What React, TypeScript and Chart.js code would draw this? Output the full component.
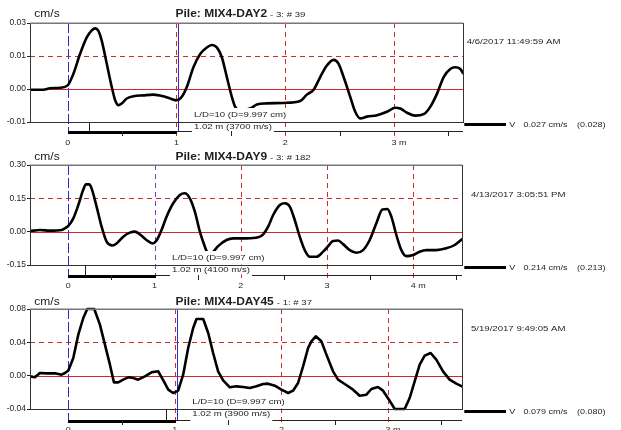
import React, { useEffect, useRef } from "react";
import { Chart, registerables } from "chart.js";

Chart.register(...registerables);

const FONT = '"Liberation Sans", Arial, Helvetica, sans-serif';
Chart.defaults.font.family = FONT;

// ---------- Pile MIX4-DAY2 : depth (m) vs velocity (cm/s) ----------
const DAY2_DEPTH = [
  -0.347, -0.224, -0.163, -0.071, 0, 0.052, 0.113, 0.175, 0.221, 0.252, 0.282, 0.313, 0.359, 0.405,
  0.436, 0.466, 0.497, 0.543, 0.604, 0.696, 0.788, 0.88, 0.942, 1.003, 1.049, 1.095, 1.156, 1.218,
  1.279, 1.325, 1.371, 1.417, 1.463, 1.509, 1.54, 1.6, 1.66, 1.693, 1.739, 1.831, 1.985, 2.138, 2.199,
  2.261, 2.322, 2.383, 2.445, 2.491, 2.537, 2.598, 2.644, 2.69, 2.752, 2.844, 2.936, 3.012, 3.058, 3.12,
  3.196, 3.273, 3.334, 3.396, 3.457, 3.518, 3.564, 3.61, 3.635,
];
const DAY2_VELOCITY = [
  -0.0003, -0.0003, 0.0003, 0.0005, 0.0015, 0.0062, 0.0143, 0.0211, 0.024, 0.0248, 0.0238, 0.0197,
  0.0103, 0.0008, -0.0046, -0.0066, -0.0059, -0.0039, -0.003, -0.0026, -0.0023, -0.003, -0.0039,
  -0.0046, -0.0032, 0.0008, 0.0089, 0.0143, 0.017, 0.018, 0.017, 0.013, 0.0049, -0.0032, -0.0073,
  -0.009, -0.0082, -0.0076, -0.0063, -0.0059, -0.0057, -0.0049, -0.0023, -0.0003, 0.0049, 0.0096,
  0.0119, 0.0103, 0.0049, -0.0032, -0.0093, -0.012, -0.0113, -0.0107, -0.0093, -0.0077, -0.008,
  -0.0097, -0.0109, -0.0103, -0.0073, -0.0019, 0.0049, 0.0082, 0.0089, 0.0082, 0.0065,
];
const DAY2_RANGE = [-0.347, 3.635];
const DAY2_Y_TICKS = [-0.0135, 0, 0.0135, 0.027];
const DAY2_Y_LABELS = ["-0.01", "0.00", "0.01", "0.03"];
const DAY2_X_TICKS = [0, 1, 2, 3];
const DAY2_X_LABELS = ["0", "1", "2", "3 m"];
const DAY2_TOE = 1.017;
const DAY2_MARK = 0.196;
const DAY2_TITLE = ["Pile: MIX4-DAY2", "- 3: # 39"];
const DAY2_DATE = "4/6/2017 11:49:59 AM";
const DAY2_LEGEND = ["V", "0.027 cm/s", "(0.028)"];
const DAY2_NOTES = ["L/D=10 (D=9.997 cm)", "1.02 m (3700 m/s)"];

// ---------- Pile MIX4-DAY9 ----------
const DAY9_DEPTH = [
  -0.444, -0.328, -0.212, -0.077, -0.039, 0, 0.058, 0.116, 0.174, 0.205, 0.243, 0.27, 0.328, 0.386,
  0.444, 0.51, 0.56, 0.637, 0.714, 0.772, 0.83, 0.907, 0.977, 1.023, 1.081, 1.139, 1.216, 1.293, 1.351,
  1.409, 1.467, 1.525, 1.583, 1.602, 1.64, 1.68, 1.737, 1.834, 1.911, 2.066, 2.201, 2.259, 2.317, 2.375,
  2.452, 2.51, 2.568, 2.625, 2.683, 2.741, 2.799, 2.876, 2.954, 3.012, 3.069, 3.127, 3.185, 3.263, 3.34,
  3.417, 3.494, 3.571, 3.641, 3.699, 3.745, 3.803, 3.861, 3.919, 3.996, 4.073, 4.151, 4.266, 4.382,
  4.479, 4.564,
];
const DAY9_VELOCITY = [
  0.003, 0.0075, 0.0045, 0.0075, 0.015, 0.026, 0.06, 0.12, 0.19, 0.213, 0.213, 0.195, 0.113, 0.0225,
  -0.045, -0.062, -0.053, -0.0225, -0.0045, 0, -0.012, -0.0375, -0.053, -0.04, 0.0075, 0.0675, 0.128,
  0.165, 0.173, 0.15, 0.09, 0, -0.0675, -0.086, -0.1, -0.09, -0.065, -0.0375, -0.03, -0.03, -0.0255,
  -0.012, 0.0225, 0.075, 0.12, 0.128, 0.113, 0.0525, -0.0225, -0.083, -0.113, -0.113, -0.09, -0.065,
  -0.042, -0.04, -0.056, -0.083, -0.095, -0.083, -0.0375, 0.0375, 0.1, 0.102, 0.0675, -0.015, -0.083,
  -0.11, -0.105, -0.09, -0.083, -0.083, -0.075, -0.06, -0.0345,
];
const DAY9_RANGE = [-0.444, 4.564];
const DAY9_Y_TICKS = [-0.15, 0, 0.15, 0.3];
const DAY9_Y_LABELS = ["-0.15", "0.00", "0.15", "0.30"];
const DAY9_X_TICKS = [0, 1, 2, 3, 4];
const DAY9_X_LABELS = ["0", "1", "2", "3", "4 m"];
const DAY9_TOE = 1.0;
const DAY9_MARK = 0.193;
const DAY9_TITLE = ["Pile: MIX4-DAY9", "- 3: # 182"];
const DAY9_DATE = "4/13/2017 3:05:51 PM";
const DAY9_LEGEND = ["V", "0.214 cm/s", "(0.213)"];
const DAY9_NOTES = ["L/D=10 (D=9.997 cm)", "1.02 m (4100 m/s)"];

// ---------- Pile MIX4-DAY45 ----------
const DAY45_DEPTH = [
  -0.359, -0.313, -0.266, -0.203, -0.125, -0.063, -0.031, 0, 0.047, 0.094, 0.141, 0.178, 0.244, 0.297,
  0.344, 0.391, 0.428, 0.469, 0.516, 0.563, 0.609, 0.656, 0.719, 0.781, 0.844, 0.897, 0.938, 0.984,
  1.031, 1.078, 1.125, 1.172, 1.203, 1.266, 1.313, 1.359, 1.406, 1.453, 1.516, 1.578, 1.641, 1.703,
  1.766, 1.828, 1.875, 1.938, 2.0, 2.063, 2.109, 2.156, 2.203, 2.25, 2.281, 2.322, 2.375, 2.422, 2.484,
  2.531, 2.594, 2.672, 2.734, 2.797, 2.844, 2.906, 2.953, 3.009, 3.063, 3.156, 3.203, 3.25, 3.297,
  3.344, 3.4, 3.453, 3.516, 3.578, 3.641, 3.694,
];
const DAY45_VELOCITY = [
  -0.0008, -0.002, 0.0032, 0.0028, 0.0028, 0.0012, 0.0032, 0.006, 0.0212, 0.0492, 0.0692, 0.08, 0.08,
  0.0612, 0.0372, 0.0132, -0.008, -0.008, -0.0048, -0.002, -0.0028, -0.0048, -0.0008, 0.004, 0.0052,
  -0.0068, -0.0168, -0.0208, -0.018, 0.0012, 0.0332, 0.0572, 0.068, 0.068, 0.0512, 0.0272, 0.0052,
  -0.0056, -0.014, -0.0128, -0.0136, -0.0148, -0.0128, -0.01, -0.0096, -0.012, -0.0168, -0.0208,
  -0.018, -0.0088, 0.0112, 0.0332, 0.0412, 0.0472, 0.0412, 0.0252, 0.0052, -0.0048, -0.01, -0.0168,
  -0.024, -0.0228, -0.016, -0.0136, -0.018, -0.0288, -0.04, -0.04, -0.0268, -0.0068, 0.0132, 0.024,
  0.0272, 0.0192, 0.0052, -0.0048, -0.0096, -0.0128,
];
const DAY45_RANGE = [-0.359, 3.694];
const DAY45_Y_TICKS = [-0.04, 0, 0.04, 0.08];
const DAY45_Y_LABELS = ["-0.04", "0.00", "0.04", "0.08"];
const DAY45_X_TICKS = [0, 1, 2, 3];
const DAY45_X_LABELS = ["0", "1", "2", "3 m"];
const DAY45_TOE = 1.021;
const DAY45_MARK = 0.916;
const DAY45_TITLE = ["Pile: MIX4-DAY45", "- 1: # 37"];
const DAY45_DATE = "5/19/2017 9:49:05 AM";
const DAY45_LEGEND = ["V", "0.079 cm/s", "(0.080)"];
const DAY45_NOTES = ["L/D=10 (D=9.997 cm)", "1.02 m (3900 m/s)"];

// ---------- styling / placement ----------
const RED = "#cf2a2a";
const BLUE = "#2a2ac8";
const VIOLET = "#7d38b0";
const INK = "#1e1e1e";
const SX = 1.2; // horizontal stretch of the printed report text

type Frame = {
  top: number; height: number; areaTop: number; areaBottom: number; right: number;
  axisGap: number; baseline: number; dateX: number; dateY: number; tension: number;
};

const FRAMES: Frame[] = [
  { top: 0, height: 145, areaTop: 23, areaBottom: 122, right: 463, axisGap: 9, baseline: 17, dateX: 466.7, dateY: 41.7, tension: 0.35 },
  { top: 145, height: 145, areaTop: 20, areaBottom: 120, right: 462, axisGap: 10, baseline: 15, dateX: 471, dateY: 49.3, tension: 0.35 },
  { top: 290, height: 140, areaTop: 19, areaBottom: 119, right: 462, axisGap: 11, baseline: 15, dateX: 471, dateY: 38.3, tension: 0 },
];

const PANELS = [
  { depth: DAY2_DEPTH, vel: DAY2_VELOCITY, range: DAY2_RANGE, yTicks: DAY2_Y_TICKS, yLabels: DAY2_Y_LABELS, xTicks: DAY2_X_TICKS, xLabels: DAY2_X_LABELS, toe: DAY2_TOE, mark: DAY2_MARK, title: DAY2_TITLE, date: DAY2_DATE, legend: DAY2_LEGEND, notes: DAY2_NOTES, frame: FRAMES[0] },
  { depth: DAY9_DEPTH, vel: DAY9_VELOCITY, range: DAY9_RANGE, yTicks: DAY9_Y_TICKS, yLabels: DAY9_Y_LABELS, xTicks: DAY9_X_TICKS, xLabels: DAY9_X_LABELS, toe: DAY9_TOE, mark: DAY9_MARK, title: DAY9_TITLE, date: DAY9_DATE, legend: DAY9_LEGEND, notes: DAY9_NOTES, frame: FRAMES[1] },
  { depth: DAY45_DEPTH, vel: DAY45_VELOCITY, range: DAY45_RANGE, yTicks: DAY45_Y_TICKS, yLabels: DAY45_Y_LABELS, xTicks: DAY45_X_TICKS, xLabels: DAY45_X_LABELS, toe: DAY45_TOE, mark: DAY45_MARK, title: DAY45_TITLE, date: DAY45_DATE, legend: DAY45_LEGEND, notes: DAY45_NOTES, frame: FRAMES[2] },
];

type Panel = (typeof PANELS)[number];

function seg(ctx: CanvasRenderingContext2D, x1: number, y1: number, x2: number, y2: number) {
  ctx.beginPath();
  ctx.moveTo(x1, y1);
  ctx.lineTo(x2, y2);
  ctx.stroke();
}

function fontOf(size: number, bold = false) {
  return `${bold ? "bold " : ""}${size}px ${FONT}`;
}

function textWidth(ctx: CanvasRenderingContext2D, s: string, size: number, bold = false) {
  ctx.save();
  ctx.font = fontOf(size, bold);
  const w = ctx.measureText(s).width * SX;
  ctx.restore();
  return w;
}

function drawText(
  ctx: CanvasRenderingContext2D, s: string, x: number, y: number, size: number,
  bold = false, baseline: CanvasTextBaseline = "middle",
) {
  ctx.save();
  ctx.font = fontOf(size, bold);
  ctx.fillStyle = INK;
  ctx.textAlign = "left";
  ctx.textBaseline = baseline;
  ctx.translate(x, y);
  ctx.scale(SX, 1);
  ctx.fillText(s, 0, 0);
  ctx.restore();
  return textWidth(ctx, s, size, bold);
}

function reportOverlay(p: Panel) {
  return {
    id: "reportOverlay",
    beforeDatasetsDraw(chart: Chart) {
      const { ctx, chartArea: a } = chart;
      const xs = chart.scales.x;
      const ys = chart.scales.y;
      const px = (m: number) => Math.round(xs.getPixelForValue(m)) + 0.5;
      const py = (v: number) => Math.round(ys.getPixelForValue(v)) + 0.5;
      const axisY = Math.round(a.bottom) + p.frame.axisGap;
      const toeOnMetre = Math.abs(p.toe - 1) < 0.005;
      ctx.save();
      ctx.lineWidth = 1;
      // pile head (dashed) and toe (solid) markers
      ctx.strokeStyle = BLUE;
      ctx.setLineDash([10, 3]);
      seg(ctx, px(0), a.top, px(0), axisY);
      if (!toeOnMetre) {
        ctx.setLineDash([]);
        seg(ctx, px(p.toe), a.top, px(p.toe), axisY);
      }
      // zero line, half-scale line and metre lines
      ctx.strokeStyle = RED;
      ctx.setLineDash([]);
      seg(ctx, a.left, py(0), a.right, py(0));
      ctx.setLineDash([5, 4]);
      seg(ctx, a.left, py(p.yTicks[2]), a.right, py(p.yTicks[2]));
      p.xTicks.filter((m) => m > 0).forEach((m) => {
        ctx.strokeStyle = toeOnMetre && m === 1 ? VIOLET : RED;
        seg(ctx, px(m), a.top, px(m), axisY + 5);
      });
      ctx.restore();
    },
    afterDatasetsDraw(chart: Chart) {
      const { ctx, chartArea: a } = chart;
      const f = p.frame;
      const xs = chart.scales.x;
      const px = (m: number) => Math.round(xs.getPixelForValue(m)) + 0.5;
      const bottom = Math.round(a.bottom);
      const axisY = bottom + f.axisGap;
      const x0 = px(0);
      const x1 = px(1);
      const lx = xs.getPixelForValue(1) + 17.5;

      ctx.save();
      // L/D note on a white plate
      const ldW = textWidth(ctx, p.notes[0], 8);
      ctx.fillStyle = "#fff";
      ctx.fillRect(lx - 3, bottom - 14, ldW + 6, 13.5);
      drawText(ctx, p.notes[0], lx, bottom - 7.5, 8);

      // plot frame
      ctx.strokeStyle = "#333";
      ctx.lineWidth = 1;
      ctx.strokeRect(Math.round(a.left) + 0.5, Math.round(a.top) + 0.5, Math.round(a.right - a.left), bottom - Math.round(a.top));
      ctx.strokeStyle = "#777";
      ctx.lineWidth = 1.5;
      seg(ctx, a.left, Math.round(a.top) + 0.25, a.right, Math.round(a.top) + 0.25);

      // depth ruler below the plot
      const wW = textWidth(ctx, p.notes[1], 8);
      ctx.fillStyle = "#fff";
      ctx.fillRect(lx - 2, bottom + 1, wW + 4, f.axisGap - 1.5);
      drawText(ctx, p.notes[1], lx, bottom + 5, 8);
      ctx.strokeStyle = "#222";
      ctx.lineWidth = 1;
      seg(ctx, x1, axisY + 0.5, lx - 2, axisY + 0.5);
      seg(ctx, lx + wW + 2, axisY + 0.5, a.right, axisY + 0.5);
      ctx.fillStyle = "#000";
      ctx.fillRect(x0 - 0.5, axisY, x1 - x0 + 1, 3);
      seg(ctx, px(p.mark), bottom, px(p.mark), axisY);
      for (let m = 0.5; m < p.range[1]; m += 1) seg(ctx, px(m), axisY, px(m), axisY + 5);

      // depth labels: the number sits centred on its metre line, the unit follows
      p.xTicks.forEach((m, i) => {
        const label = p.xLabels[i];
        const numW = textWidth(ctx, label.split(" ")[0], 7.5);
        drawText(ctx, label, xs.getPixelForValue(m) - numW / 2, bottom + 21, 7.5);
      });

      // headings
      drawText(ctx, "cm/s", 34.3, f.baseline, 10, false, "alphabetic");
      const tw = drawText(ctx, p.title[0], 175.5, f.baseline, 10, true, "alphabetic");
      drawText(ctx, p.title[1], 175.5 + tw + 3, f.baseline, 8, false, "alphabetic");
      drawText(ctx, p.date, f.dateX, f.dateY, 8);

      // legend
      const ly = bottom + 2.5;
      ctx.strokeStyle = "#000";
      ctx.lineWidth = 3;
      seg(ctx, 464.3, ly, 506, ly);
      drawText(ctx, p.legend[0], 509.3, ly, 7.5);
      drawText(ctx, p.legend[1], 523.5, ly, 7.5);
      drawText(ctx, p.legend[2], 577, ly, 7.5);
      ctx.restore();
    },
  };
}

function buildConfig(p: Panel): any {
  const f = p.frame;
  return {
    type: "line",
    data: {
      datasets: [
        {
          data: p.depth.map((d, i) => ({ x: d, y: p.vel[i] })),
          borderColor: "#000",
          borderWidth: 2.6,
          pointRadius: 0,
          tension: f.tension,
          cubicInterpolationMode: f.tension > 0 ? "monotone" : "default",
          borderJoinStyle: "round",
          borderCapStyle: "round",
          clip: { left: 0, right: 0, top: 2, bottom: 2 },
        },
      ],
    },
    options: {
      responsive: false,
      animation: false,
      events: [],
      layout: { padding: { left: 0, top: f.areaTop, right: 621 - f.right, bottom: 0 } },
      plugins: { legend: { display: false }, tooltip: { enabled: false }, title: { display: false } },
      scales: {
        x: {
          type: "linear",
          min: p.range[0],
          max: p.range[1],
          afterFit: (s: any) => { s.height = f.height - f.areaBottom; },
          afterBuildTicks: (s: any) => { s.ticks = p.xTicks.map((v) => ({ value: v })); },
          ticks: { display: false },
          grid: { display: false },
          border: { display: false },
        },
        y: {
          type: "linear",
          min: p.yTicks[0],
          max: p.yTicks[p.yTicks.length - 1],
          afterFit: (s: any) => { s.width = 30; },
          afterBuildTicks: (s: any) => { s.ticks = p.yTicks.map((v) => ({ value: v })); },
          ticks: {
            autoSkip: false,
            padding: 1,
            color: INK,
            font: { size: 8.5, family: FONT },
            callback: (_v: any, i: number) => p.yLabels[i],
          },
          grid: { drawOnChartArea: false, drawTicks: true, tickLength: 3, color: "#222" },
          border: { display: false },
        },
      },
    },
    plugins: [reportOverlay(p)],
  };
}

function PanelChart({ panel }: { panel: Panel }) {
  const ref = useRef<HTMLCanvasElement>(null);
  useEffect(() => {
    const canvas = ref.current;
    if (!canvas) return;
    const chart = new Chart(canvas, buildConfig(panel));
    return () => chart.destroy();
  }, [panel]);
  const f = panel.frame;
  return (
    <canvas
      ref={ref}
      width={621}
      height={f.height}
      style={{ position: "absolute", left: 0, top: f.top, width: 621, height: f.height, display: "block" }}
    />
  );
}

export default function App() {
  return (
    <div style={{ position: "absolute", left: 0, top: 0, width: 621, height: 430, background: "#fff", overflow: "hidden" }}>
      {PANELS.map((p, i) => (
        <PanelChart key={i} panel={p} />
      ))}
    </div>
  );
}
